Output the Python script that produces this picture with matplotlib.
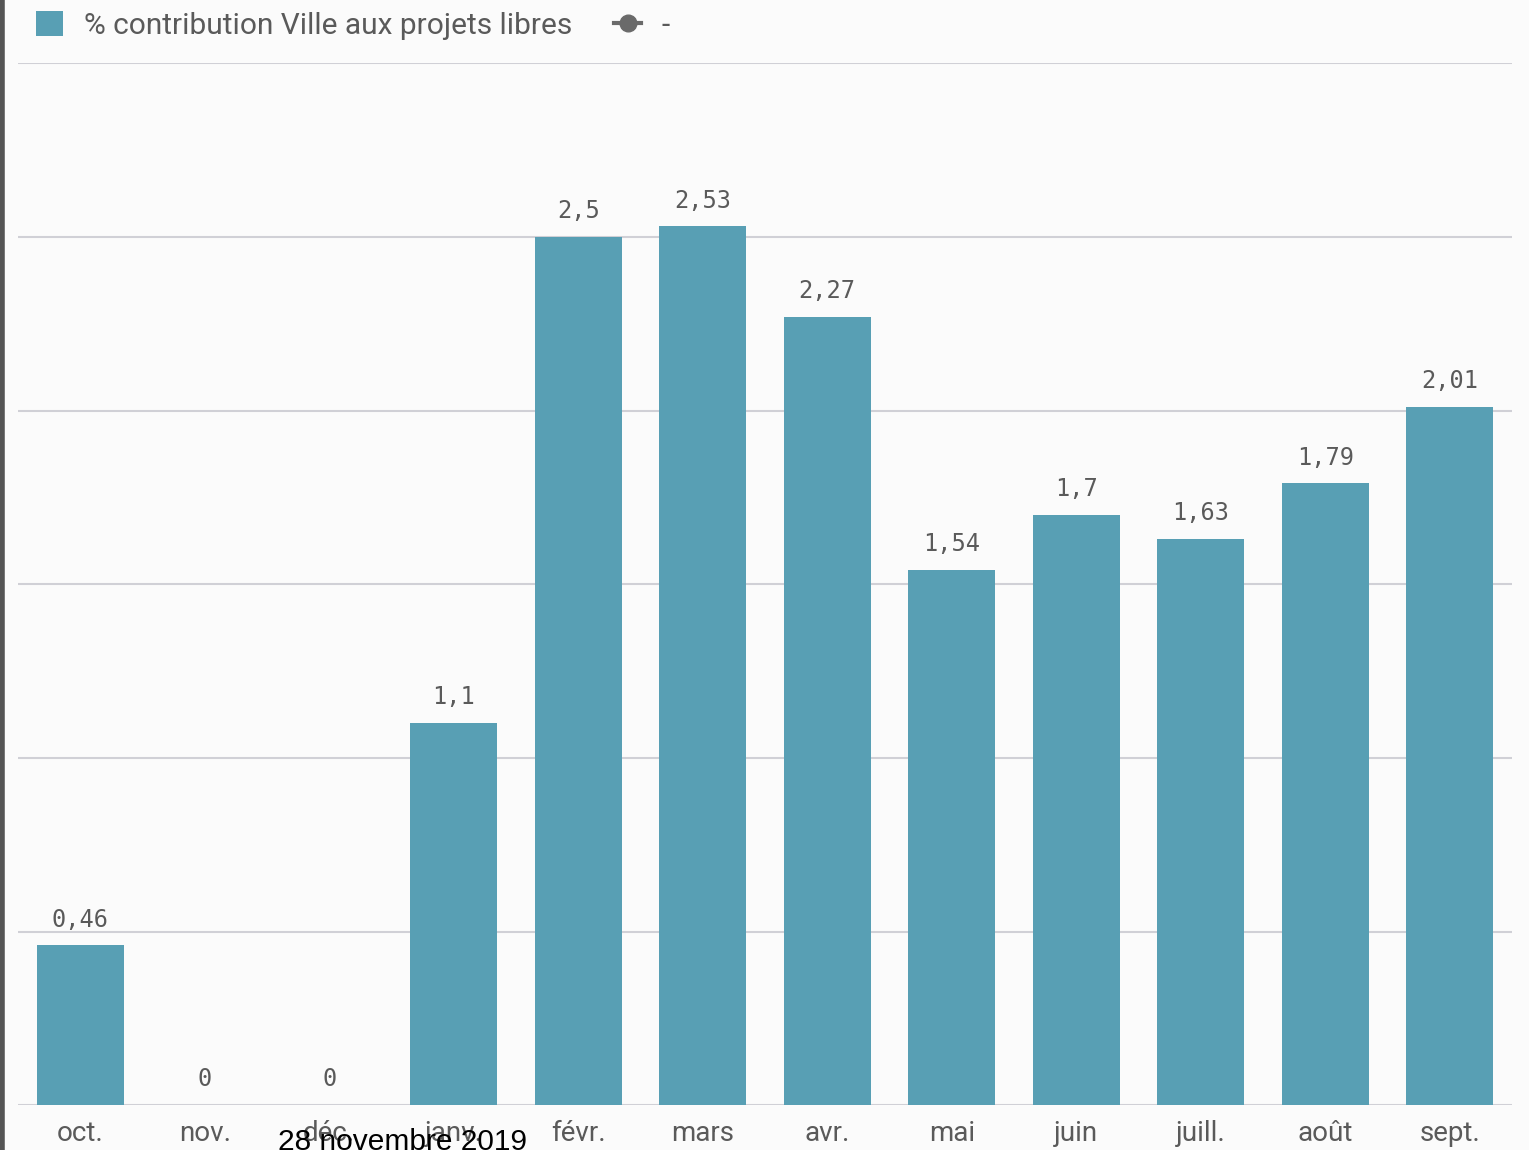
import matplotlib.pyplot as plt
from matplotlib.lines import Line2D
from matplotlib.patches import Patch

months = ['oct.', 'nov.', 'déc.', 'janv.', 'févr.', 'mars', 'avr.', 'mai',
          'juin', 'juill.', 'août', 'sept.']
values = [0.46, 0, 0, 1.1, 2.5, 2.53, 2.27, 1.54, 1.7, 1.63, 1.79, 2.01]
value_labels = ['0,46', '0', '0', '1,1', '2,5', '2,53', '2,27', '1,54',
                '1,7', '1,63', '1,79', '2,01']

bar_color = '#589fb4'
grey = '#5a5a5a'

fig = plt.figure(figsize=(15.29, 11.5), dpi=100)
fig.patch.set_facecolor('#fbfbfb')
ax = fig.add_axes([0.0118, 0.039, 0.977, 0.906])
ax.set_facecolor('#fbfbfb')

x = range(len(months))
bars = ax.bar(x, values, width=0.7, color=bar_color, zorder=3)

for rect, lab in zip(bars, value_labels):
    ax.annotate(lab, (rect.get_x() + rect.get_width() / 2, rect.get_height()),
                xytext=(0, 10), textcoords='offset points', ha='center',
                va='bottom', fontsize=17, color=grey, family='DejaVu Sans Mono')

ax.set_xlim(-0.5, len(months) - 0.5)
ax.set_ylim(0, 3)
ax.set_yticks([0, 0.5, 1, 1.5, 2, 2.5, 3])
ax.yaxis.grid(True, color='#d0d0d6', linewidth=1.5, zorder=0)
ax.tick_params(axis='y', left=False, labelleft=False)
ax.set_xticks(list(x))
ax.set_xticklabels(months, fontsize=20, color=grey, family='Roboto')
ax.tick_params(axis='x', length=0, pad=11)
for s in ax.spines.values():
    s.set_visible(False)

# legend
handles = [Patch(facecolor=bar_color, edgecolor='none'),
           Line2D([0], [0], color='#6a6a6a', linewidth=3, marker='o',
                  markersize=12)]
leg = fig.legend(handles, ['% contribution Ville aux projets libres', '-'],
                 loc='upper left', bbox_to_anchor=(0.014, 1.003), ncol=2,
                 frameon=False, borderpad=0, handlelength=0.9,
                 handleheight=0.9, columnspacing=1.4, handletextpad=0.7,
                 prop={'family': 'Roboto', 'size': 21.5})
for t in leg.get_texts():
    t.set_color(grey)

# left border of the screenshot
fig.add_artist(Line2D([0.001, 0.001], [0, 1], color='#555555', linewidth=4))

fig.text(0.182, -0.005, '28 novembre 2019', fontsize=21.5, color='black',
         family='Liberation Sans', ha='left', va='bottom')

fig.savefig('out.png', dpi=100, facecolor=fig.get_facecolor())
